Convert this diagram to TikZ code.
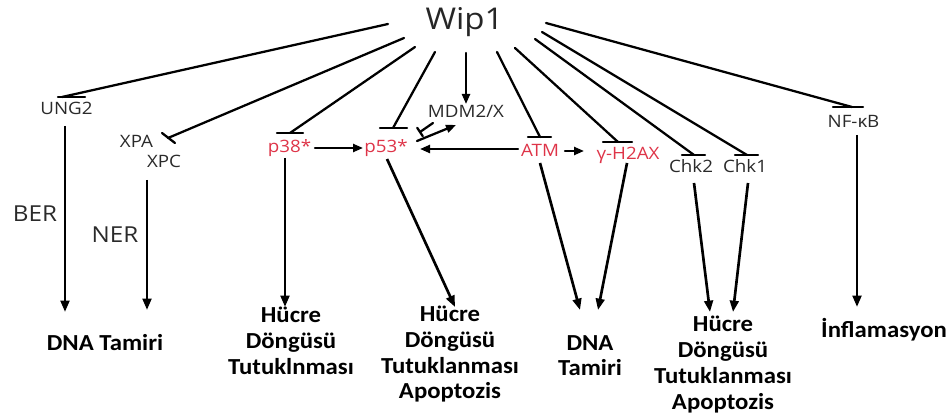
\documentclass[tikz,border=0pt]{standalone}
\usepackage{fontspec}
\setmainfont{Open Sans}[FakeStretch=1.1]
\newfontfamily\outfont{Carlito}[FakeStretch=1.08]
\usetikzlibrary{arrows.meta}
\definecolor{hit}{RGB}{222,52,72}
\definecolor{lab}{RGB}{42,42,42}
\begin{document}
\begin{tikzpicture}[x=0.75pt,y=-0.75pt,
  lbl/.style={font=\fontsize{12.8}{15}\selectfont, text=lab, inner sep=0pt, anchor=base},
  hot/.style={lbl, text=hit},
  big/.style={lbl, font=\fontsize{22.5}{26}\selectfont, text=black!85},
  path/.style={lbl, font=\fontsize{16.5}{19}\selectfont},
  outc/.style={font=\outfont\bfseries\fontsize{17.2}{19.3}\selectfont, align=center, inner sep=0pt, text=black},
  ln/.style={line width=1.7pt, line cap=round},
  act/.style={ln, -{Triangle[length=7.5pt,width=6pt]}},
  down/.style={line width=2pt, -{Triangle[length=8.5pt,width=6.5pt]}},
]
\useasboundingbox (0,0) rectangle (952,416);

% ---- labels ----
\node[big] (wip) at (464.5,30) {Wip1};
\node[lbl] (ung) at (66.5,115) {UNG2};
\node[lbl] (xpa) at (136.5,148) {XPA};
\node[lbl] (xpc) at (164,168) {XPC};
\node[hot] (p38) at (289.5,153) {p38*};
\node[hot] (p53) at (386,153) {p53*};
\node[lbl] (mdm) at (466,118) {MDM2/X};
\node[hot] (atm) at (540,157) {ATM};
\node[hot] (h2ax) at (628,160) {γ-H2AX};
\node[lbl] (chk2) at (691,173) {Chk2};
\node[lbl] (chk1) at (745,173) {Chk1};
\node[lbl] (nfkb) at (853.5,128) {NF-κB};
\node[path] (ber) at (35,222) {BER};
\node[path] (ner) at (115,243) {NER};

% ---- outcomes ----
\node[outc, anchor=base] (o1) at (105,350) {DNA Tamiri};
\node[outc, anchor=north] (o2) at (291,307) {Hücre\\Döngüsü\\Tutuklnması};
\node[outc, anchor=north] (o3) at (450,306) {Hücre\\Döngüsü\\Tutuklanması\\Apoptozis};
\node[outc, anchor=north] (o4) at (590,335) {DNA\\Tamiri};
\node[outc, anchor=north] (o5) at (723,316) {Hücre\\Döngüsü\\Tutuklanması\\Apoptozis};
\node[outc, anchor=base] (o6) at (884,337) {İnflamasyon};

% ---- line ends around Wip1 ----
\coordinate (s1) at (388,24);
\coordinate (s2) at (404,38);
\coordinate (s3) at (415,47);
\coordinate (s4) at (435,52);
\coordinate (s5) at (466,53);
\coordinate (s6) at (497,52);
\coordinate (s7) at (515,48);
\coordinate (s8) at (535,39);
\coordinate (s9) at (542,32);
\coordinate (s10) at (546,23);

% ---- inhibition targets (bar centres) ----
\coordinate (tung) at (62,97);
\coordinate (txp) at (168,138);
\coordinate (tp38) at (290,133);
\coordinate (tp53) at (393,128);
\coordinate (tatm) at (540,137);
\coordinate (th2) at (618,142);
\coordinate (tc2) at (694,155);
\coordinate (tc1) at (747,155);
\coordinate (tnf) at (852,107);

% Wip1 -| targets
\draw[ln] (s1) -- (tung);   \draw[ln] (58,97) -- (85,97);
\draw[ln] (s2) -- (txp);    \draw[ln] (162,133) -- (175,143);
\draw[ln] (s3) -- (tp38);   \draw[ln] (277,133) -- (303,133);
\draw[ln] (s4) -- (tp53);   \draw[ln] (380,128) -- (407,128);
\draw[ln] (s6) -- (tatm);   \draw[ln] (528,137) -- (551,137);
\draw[ln] (s7) -- (th2);    \draw[ln] (603,142) -- (632,142);
\draw[ln] (s8) -- (tc2);    \draw[ln] (682,155) -- (705,155);
\draw[ln] (s9) -- (tc1);    \draw[ln] (735,155) -- (758,155);
\draw[ln] (s10) -- (tnf);   \draw[ln] (833,107) -- (863,107);

% Wip1 -> MDM2/X
\coordinate (tmdm) at (466,104);
\draw[act] (s5) -- (tmdm);

% MDM2/X -| p53 and p53 -> MDM2/X
\coordinate (m1) at (433,123);
\coordinate (m2) at (420,132);
\draw[ln] (m1) -- (m2);
\draw[ln] (417.2,127.8) -- (422.8,136.2);
\coordinate (q1) at (417,141);
\coordinate (q2) at (456,125);
\draw[act] (q1) -- (q2);

% horizontal activations
\coordinate (a1) at (315,148);
\coordinate (a2) at (363,148);
\draw[act] (a1) -- (a2);
\coordinate (a3) at (518,149);
\coordinate (a4) at (420,149);
\draw[act] (a3) -- (a4);
\coordinate (a5) at (565,151);
\coordinate (a6) at (584,151);
\draw[act] (a5) -- (a6);

% downstream arrows
\coordinate (d1a) at (65,126);   \coordinate (d1b) at (65,312);
\coordinate (d2a) at (147,180);  \coordinate (d2b) at (147,310);
\coordinate (d3a) at (285,158);  \coordinate (d3b) at (285,307);
\coordinate (d4a) at (387,159);  \coordinate (d4b) at (455,307);
\coordinate (d5a) at (540,163);  \coordinate (d5b) at (580,310);
\coordinate (d6a) at (627,163);  \coordinate (d6b) at (598,310);
\coordinate (d7a) at (694,183);  \coordinate (d7b) at (710,312);
\coordinate (d8a) at (748,183);  \coordinate (d8b) at (733,312);
\coordinate (d9a) at (857,135);  \coordinate (d9b) at (857,307);
\foreach \i in {1,...,9} \draw[down] (d\i a) -- (d\i b);
\end{tikzpicture}
\end{document}
